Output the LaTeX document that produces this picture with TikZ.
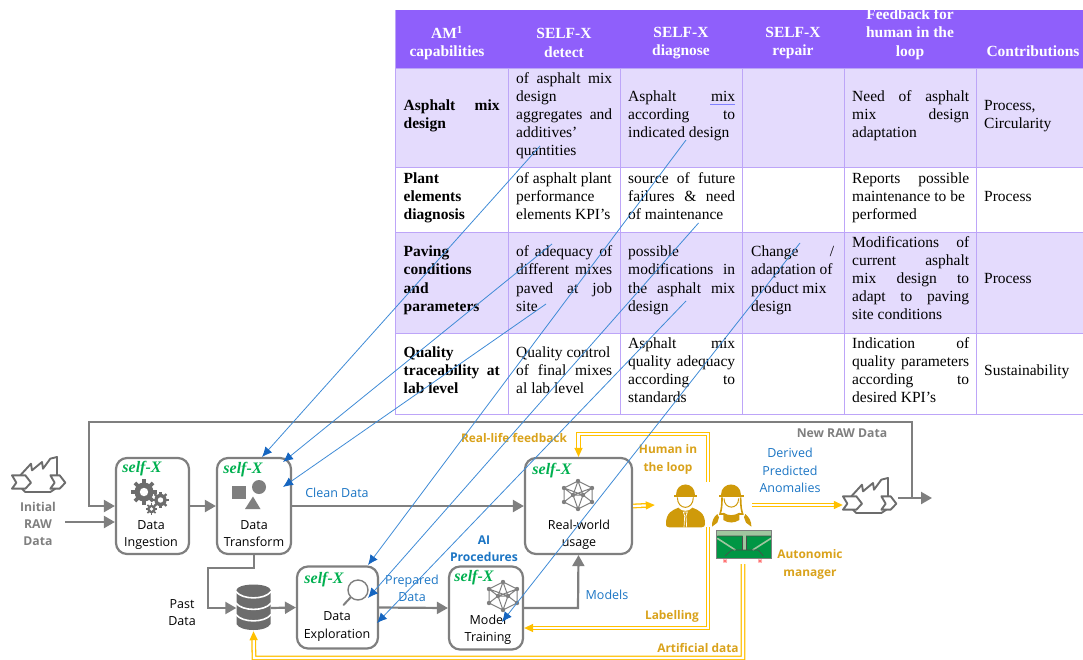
\documentclass[tikz,border=0pt]{standalone}
\usepackage{fontspec}
\setmainfont{Liberation Serif}
\newfontfamily\uifont{Open Sans}
\usetikzlibrary{arrows.meta,calc}
\definecolor{gr}{HTML}{7F7F7F}
\definecolor{hdr}{HTML}{8F5FFB}
\definecolor{rowl}{HTML}{E4DBFD}
\definecolor{tbl}{HTML}{BDA5F8}
\definecolor{ylw}{HTML}{FFC000}
\definecolor{gold}{HTML}{D9A21B}
\definecolor{iconc}{HTML}{CF9A0A}
\definecolor{lblue}{HTML}{1B75C4}
\definecolor{arrowb}{HTML}{3F8BD6}
\definecolor{arrowh}{HTML}{1565C0}
\definecolor{sgreen}{HTML}{00B050}
\newdimen\cellw
\newcommand{\jl}[1]{\makebox[\cellw][s]{\spaceskip=0pt\xspaceskip=0pt #1}}
\newcommand{\gearicon}[3]{\begin{scope}[shift={(#1,#2)}]
\foreach \a in {0,45,...,315}{\draw[gr!85!black,line width=#3*.36pt] (\a:#3*.8) -- (\a:#3*1.28);}
\fill[gr!85!black] (0,0) circle (#3*.95);
\fill[white] (0,0) circle (#3*.42);
\end{scope}}
\newcommand{\neticon}[2]{\begin{scope}[shift={(#1,#2)}]
\coordinate (n1) at (0,-14);\coordinate (n2) at (14,-7);\coordinate (n3) at (14,7);\coordinate (n4) at (0,14);\coordinate (n5) at (-14,7);\coordinate (n6) at (-14,-7);\coordinate (n7) at (-5,0);\coordinate (n8) at (5,0);
\draw[gr,line width=1pt] (n1)--(n2)--(n3)--(n4)--(n5)--(n6)--cycle (n1)--(n7)--(n5) (n1)--(n8)--(n3) (n6)--(n7)--(n4) (n2)--(n8)--(n4) (n7)--(n8) (n6)--(n8) (n2)--(n7);
\foreach \p in {n1,n2,n3,n4,n5,n6,n7,n8}{\fill[gr] (\p) circle (2.2);}
\end{scope}}
\newcommand{\facicon}[2]{\begin{scope}[shift={(#1,#2)},scale=1/3,line join=round]
\draw[gr!85!black,line width=1.9pt] (0,55)--(40,55)--(57,77)--(40,95)--(0,95)--(13,77)--cycle;
\draw[gr!85!black,line width=1.9pt] (115,55)--(143,55)--(160,77)--(143,95)--(115,95)--(128,77)--cycle;
\draw[gr!85!black,line width=1.9pt] (25,55)--(57,20)--(60,40)--(90,15)--(93,35)--(115,5)--(135,0)--(135,55);
\draw[gr!85!black,line width=1.9pt] (30,95)--(40,105)--(115,105)--(130,95);
\end{scope}}
\tikzset{
 x=1pt,y=-1pt,
 tc/.style={anchor=west,yshift=-1.9pt,inner sep=0pt,align=left,text width=#1+6pt,font=\fontsize{15.5}{18.2}\selectfont,
   execute at begin node={\setlength{\cellw}{#1}\spaceskip=0pt\xspaceskip=0pt\strut},execute at end node={\strut}},
 tcb/.style={tc=#1,font=\fontsize{15.5}{18.2}\selectfont\bfseries},
 th/.style={inner sep=0pt,align=center,text=white,font=\fontsize{15.5}{18.2}\selectfont\bfseries},
 box/.style={draw=gr,line width=2.2pt,rounded corners=11pt,fill=white,inner sep=0pt},
 ghost/.style={inner sep=0pt},
 selfx/.style={inner sep=0pt,text=sgreen,font=\fontsize{16}{18}\selectfont\bfseries\itshape},
 lab/.style={inner sep=0pt,align=center,font=\uifont\fontsize{12.5}{17.4}\selectfont},
 blab/.style={lab,text=lblue},
 glab/.style={inner sep=0pt,align=center,text=gold,font=\uifont\fontsize{11.9}{17.4}\selectfont\bfseries},
 gylab/.style={inner sep=0pt,align=center,text=gr,font=\uifont\fontsize{12.2}{17.4}\selectfont\bfseries},
 gline/.style={draw=gr,line width=2.2pt},
 garrow/.style={gline,-{Triangle[length=11pt,width=12pt]}},
 yarrow/.style={draw=ylw,line width=1.3pt,double=white,double distance=2.2pt,-{Triangle[length=9pt,width=8pt]}},
 bluearrow/.style={draw=arrowb,line width=.8pt,-{Latex[length=10pt,width=9pt,color=arrowh]}},
}
\begin{document}
\begin{tikzpicture}
\useasboundingbox (0,0) rectangle (1083,659);
% ---------- table
\fill[hdr] (395,10) rectangle (1083,68);
\fill[rowl] (395,68) rectangle (1083,167);
\fill[rowl] (395,232) rectangle (1083,333);
\draw[tbl,line width=.9pt] (395,10)--(395,414)--(1083,414);
\foreach \yy in {68,167,232,333}{\draw[tbl,line width=.9pt] (395,\yy)--(1083,\yy);}
\foreach \xx in {508,620,742,844,976}{\draw[tbl,line width=.9pt] (\xx,68)--(\xx,414);}
\node[th] (h1) at (447,43) {AM\textsuperscript{1}\\capabilities};
\node[th] (h2) at (564,43) {SELF-X\\detect};
\node[th] (h3) at (681,43) {SELF-X\\diagnose};
\node[th] (h4) at (793,43) {SELF-X\\repair};
\node[th] (h5) at (910,34) {Feedback for\\human in the\\loop};
\node[th] (h6) at (1033,51) {Contributions};
% row 1
\node[tcb=96pt] (a1) at (403.5,114) {\jl{Asphalt mix}\\design};
\node[tc=96pt] (a2) at (516,114) {\jl{of asphalt mix}\\design\\\jl{aggregates and}\\additives’\\quantities};
\node[tc=107pt] (a3) at (628,114) {\jl{Asphalt mix}\\\jl{according to}\\indicated design};
\node[tc=117pt] (a5) at (852,114) {\jl{Need of asphalt}\\\jl{mix design}\\adaptation};
\node[tc=95pt] (a6) at (984,114) {Process,\\Circularity};
\draw[draw=blue!50!white,line width=1.1pt] (710,104.5)--(735,104.5);
% row 2
\node[tcb=96pt] (b1) at (403.5,196) {Plant\\elements\\diagnosis};
\node[tc=96pt] (b2) at (516,196) {of asphalt plant\\performance\\elements KPI’s};
\node[tc=107pt] (b3) at (628,196) {\jl{source of future}\\\jl{failures \& need}\\of maintenance};
\node[tc=117pt] (b5) at (852,196) {\jl{Reports possible}\\maintenance to be\\performed};
\node[tc=95pt] (b6) at (984,196) {Process};
% row 3
\node[tcb=96pt] (c1) at (403.5,278.5) {Paving\\conditions\\and\\parameters};
\node[tc=96pt] (c2) at (516,278.5) {\jl{of adequacy of}\\\jl{different mixes}\\\jl{paved at job}\\site};
\node[tc=107pt] (c3) at (628,278.5) {possible\\\jl{modifications in}\\\jl{the asphalt mix}\\design};
\node[tc=83pt] (c4) at (751,278.5) {\jl{Change /}\\adaptation of\\product mix\\design};
\node[tc=117pt] (c5) at (852,278) {\jl{Modifications of}\\\jl{current asphalt}\\\jl{mix design to}\\\jl{adapt to paving}\\site conditions};
\node[tc=95pt] (c6) at (984,278) {Process};
% row 4
\node[tcb=96pt] (d1) at (403.5,370) {Quality\\\jl{traceability at}\\lab level};
\node[tc=96pt] (d2) at (516,370) {Quality control\\\jl{of final mixes}\\al lab level};
\node[tc=107pt] (d3) at (628,370) {\jl{Asphalt mix}\\\jl{quality adequacy}\\\jl{according to}\\standards};
\node[tc=117pt] (d5) at (852,370) {\jl{Indication of}\\\jl{quality parameters}\\\jl{according to}\\desired KPI’s};
\node[tc=95pt] (d6) at (984,370) {Sustainability};
% ---------- process boxes
\node[box,minimum width=73pt,minimum height=96pt] (ing) at (152.5,506) {};
\node[box,minimum width=74pt,minimum height=96pt] (trans) at (254,506) {};
\node[box,minimum width=107pt,minimum height=96pt] (real) at (578.5,506) {};
\node[box,minimum width=81pt,minimum height=82pt] (expl) at (337.5,607.5) {};
\node[box,minimum width=74pt,minimum height=83pt] (train) at (486,608) {};
\node[ghost,minimum width=34pt,minimum height=46pt] (db) at (253.5,608) {};
\node[ghost,minimum width=53pt,minimum height=36pt] (fac1) at (38.5,475) {};
\node[ghost,minimum width=55pt,minimum height=38pt] (fac2) at (870.5,498) {};
\node[ghost,minimum width=39pt,minimum height=44pt] (male) at (685.5,505) {};
\node[ghost,minimum width=40pt,minimum height=44pt] (fem) at (732,505) {};
\node[ghost,minimum width=56pt,minimum height=28pt] (mgr) at (744,544) {};
% self-X
\node[selfx] (s1) at (142,469) {self-X};
\node[selfx] (s2) at (243,470) {self-X};
\node[selfx] (s3) at (324,580) {self-X};
\node[selfx] (s4) at (474,578) {self-X};
\node[selfx] (s5) at (552,471) {self-X};
% labels in boxes
\node[lab] (t1) at (151,535) {Data\\Ingestion};
\node[lab] (t2) at (254,533.5) {Data\\Transform};
\node[lab] (t3) at (337,626.5) {Data\\Exploration};
\node[lab] (t4) at (488,629.5) {Model\\Training};
\node[lab] (t5) at (579,535) {Real-world\\usage};
% other labels
\node[gylab] (l1) at (38,524) {Initial\\RAW\\Data};
\node[blab] (l2) at (337,493) {Clean Data};
\node[lab] (l3) at (182,612.5) {Past\\Data};
\node[blab] (l4) at (412,588.5) {Prepared\\Data};
\node[blab,font=\uifont\fontsize{12.1}{17.4}\selectfont\bfseries] (l5) at (484,548.5) {AI\\Procedures};
\node[blab] (l6) at (607,595) {Models};
\node[glab] (l7) at (514,438) {Real-life feedback};
\node[glab] (l8) at (668,459.5) {Human in\\the loop};
\node[glab] (l9) at (672,616) {Labelling};
\node[glab] (l10) at (698,648) {Artificial data};
\node[gylab] (l11) at (842,433) {New RAW Data};
\node[blab] (l12) at (790,470.5) {Derived\\Predicted\\Anomalies};
\node[glab] (l13) at (810,564.5) {Autonomic\\manager};
% ---------- icons
\gearicon{144}{492}{10}
\gearicon{160.5}{500}{6.5}
\gearicon{151.5}{509}{4.5}
\fill[gr] (232,486) rectangle (246,499);
\fill[gr] (259,487) circle (7);
\fill[gr] (253,496.5)--(260.5,509)--(245,509)--cycle;
\draw[gr,line width=2pt,line cap=round] (351,597)--(343.5,605);
\draw[gr,line width=1.4pt,fill=white] (358,590) circle (10);
\neticon{578}{495}
\neticon{503}{596}
\facicon{12}{457}
\facicon{843}{478}
% database
\fill[gr!85!black] (236.5,590) -- (236.5,624) .. controls (240,632) and (267,632) .. (270.5,624) -- (270.5,590) -- cycle;
\fill[gr!85!black] (253.5,590) ellipse (17 and 5.5);
\foreach \dy in {0,11.5,23}{
\draw[white,line width=1.6pt] (236,591.5+\dy) .. controls (242,600+\dy) and (265,600+\dy) .. (271,591.5+\dy);}
% people and manager
\begin{scope}[shift={(660,410)},scale=1/3]
\fill[iconc] (48,255) .. controls (48,212) and (104,212) .. (104,255) -- cycle;
\fill[iconc] (42,254) rectangle (110,261);
\draw[iconc,line width=1pt] (52,262) .. controls (52,302) and (100,302) .. (100,262);
\fill[iconc] (18,340) .. controls (18,308) and (38,300) .. (55,293) .. controls (65,306) and (87,306) .. (97,293) .. controls (115,300) and (135,308) .. (135,340) .. controls (135,350) and (130,352) .. (125,352) -- (28,352) .. controls (22,352) and (18,350) .. (18,340) -- cycle;
\draw[white,line width=.7pt] (70,306)--(82,306)--(78,318)--(80,352) (70,306)--(74,318)--(72,352);
\fill[iconc] (184,255) .. controls (184,212) and (244,212) .. (244,255) -- cycle;
\fill[iconc] (178,254) rectangle (251,261);
\draw[iconc,line width=1.6pt] (186,262) .. controls (186,290) and (184,300) .. (180,312) -- (192,312);
\draw[iconc,line width=1.6pt] (242,262) .. controls (242,290) and (244,300) .. (248,312) -- (236,312);
\draw[iconc,line width=1pt] (192,265) .. controls (192,300) and (236,300) .. (236,265);
\fill[iconc] (190,308) .. controls (205,318) and (222,318) .. (238,308) -- (238,330) .. controls (222,340) and (205,340) .. (190,330) -- cycle;
\fill[iconc] (172,312) .. controls (160,322) and (155,335) .. (156,350) -- (172,338) -- (177,322) -- cycle;
\fill[iconc] (256,312) .. controls (268,322) and (275,335) .. (274,350) -- (258,338) -- (252,322) -- cycle;
% autonomic manager
\fill[sgreen!85!black] (168,360) rectangle (335,445);
\fill[green!25!gray!60!white] (170,362) rectangle (335,378);
\draw[gr,line width=1pt] (168,360) rectangle (335,445);
\fill[green!25!gray!60!white] (248,378) rectangle (258,420);
\draw[black!70,line width=.6pt] (248,380)--(248,420) (258,380)--(258,420);
\draw[green!25!gray!60!white,line width=1.6pt] (172,385)--(226,420) (333,385)--(278,420);
\draw[black!70,line width=.6pt] (172,378)--(248,378) (258,378)--(333,378) (215,420)--(295,420) (215,420)--(195,438) (295,420)--(310,438);
\foreach \px in {195,300}{
\draw[red!55!white,line width=.8pt] (\px-6,453)--(\px+6,453) (\px-4,448)--(\px+4,458) (\px+4,448)--(\px-4,458);}
\end{scope}
% ---------- connectors: gray
\coordinate (feedA) at (65,522);
\coordinate (loopS) at (912,498);
\coordinate (loopT) at (912,422);
\coordinate (loopL) at (89,422);
\coordinate (outE) at (932,498);
\coordinate (pastK) at (208,568);
\coordinate (modK) at (578,608);
\draw[garrow] (feedA) -- (feedA -| ing.west);
\draw[garrow] (loopS) -- (loopT) -- (loopL) |- (ing.west);
\draw[garrow] (fac2.east) -- (outE);
\draw[garrow] (ing.east) -- (trans.west);
\draw[garrow] (trans.east) -- (real.west);
\draw[garrow] (trans.south) |- (pastK) -- (pastK |- db.west) -- (db.west);
\draw[garrow] (db.east) -- (expl.west);
\draw[garrow] (expl.east) -- (train.west);
\draw[garrow] (train.east |- modK) -- (modK) -- (real.south);
% ---------- connectors: yellow
\coordinate (hK1) at (708,482);
\coordinate (hK2) at (708,434);
\coordinate (lK1) at (708,527);
\coordinate (lK2) at (708,628);
\coordinate (aK1) at (743,564);
\coordinate (aK2) at (743,658);
\coordinate (aK3) at (254,658);
\draw[yarrow] (hK1) -- (hK2) -| (real.north);
\draw[yarrow] (real.east) -- ($(male.west)+(-11,0)$);
\draw[yarrow] (fem.east) -- (fem.east -| fac2.west);
\draw[yarrow] (lK1) -- (lK2) -- (lK2 -| train.east);
\draw[yarrow] (aK1) -- (aK2) -- (aK3) -- (db.south);
% ---------- connectors: blue
\coordinate (p1) at (540,146);
\coordinate (p2) at (686,140);
\coordinate (p3) at (698.5,223);
\coordinate (p4) at (552,244);
\coordinate (p5) at (546,304);
\coordinate (p6) at (686,301);
\coordinate (p7) at (800,243);
\draw[bluearrow] (p1) -- ($(trans.center)+(8,-49)$);
\draw[bluearrow] (p4) -- ($(trans.center)+(29,-44)$);
\draw[bluearrow] (p5) -- ($(trans.center)+(29,-19)$);
\draw[bluearrow] (p2) -- ($(expl.center)+(30.5,-42.5)$);
\draw[bluearrow] (p3) -- ($(expl.center)+(30.5,-9.5)$);
\draw[bluearrow] (p6) -- ($(expl.center)+(39.5,15.5)$);
\draw[bluearrow] (p7) -- ($(train.center)+(16,14)$);
\end{tikzpicture}
\end{document}
